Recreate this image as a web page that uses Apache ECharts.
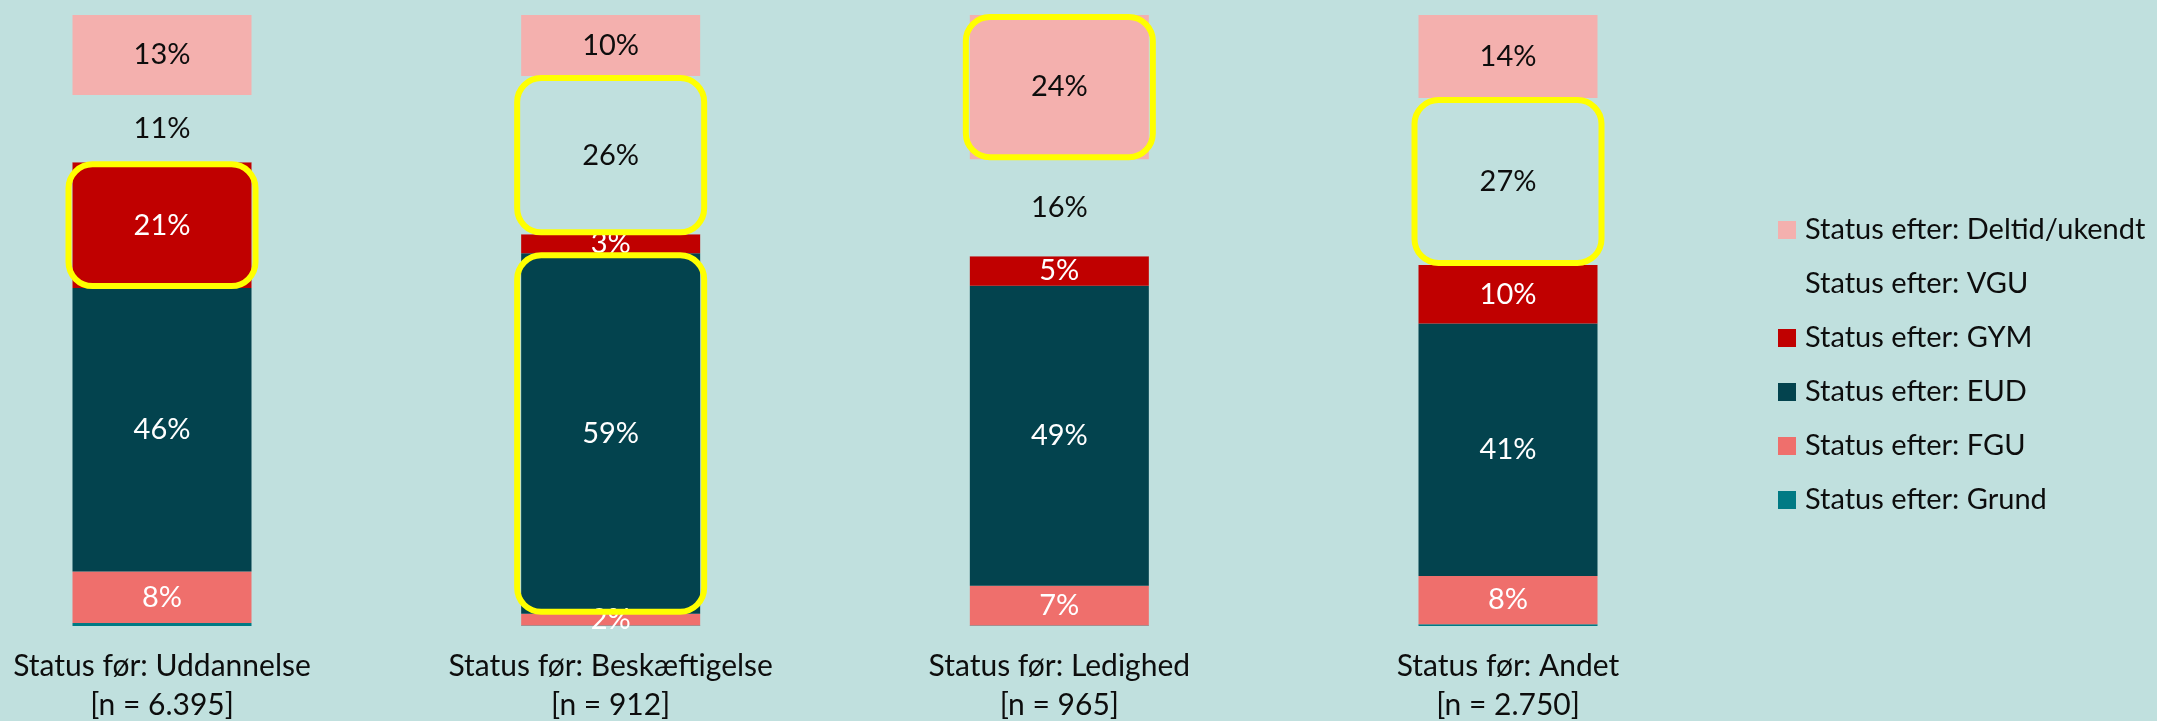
<!DOCTYPE html>
<html>
<head>
<meta charset="utf-8">
<script src="https://cdn.jsdelivr.net/npm/echarts@6/dist/echarts.min.js"></script>
<style>
  html, body { margin: 0; padding: 0; background: #c0e0de; }
  #chart { width: 2157px; height: 721px; }
</style>
</head>
<body>
<div id="chart"></div>
<script>
// categories (x axis)
const categories = [
  "Status før: Uddannelse\n[n = 6.395]",
  "Status før: Beskæftigelse\n[n = 912]",
  "Status før: Ledighed\n[n = 965]",
  "Status før: Andet\n[n = 2.750]"
];

// shares in percent, per category
const grund  = [0.5, 0.1, 0.1, 0.3];
const fgu    = [8.4, 1.9, 6.5, 7.9];
const eud    = [46.4, 59.0, 49.1, 41.3];
const gym    = [20.6, 3.1, 4.8, 9.6];
const vgu    = [11.0, 25.9, 15.9, 27.3];
const deltid = [13.1, 10.0, 23.6, 13.6];

// yellow highlight boxes: [category index, segment]
const highlights = [
  [0, "gym"],
  [1, "vgu"],
  [1, "eud"],
  [2, "deltid"],
  [3, "vgu"]
];

const BG = "#c0e0de";
const FONT = "Lato";
const BAR_W = 179;

// stack order bottom -> top
const stackOrder = [
  { key: "grund",  name: "Status efter: Grund",          data: grund,  color: "#007a84", label: false, txt: "#fff" },
  { key: "fgu",    name: "Status efter: FGU",            data: fgu,    color: "#ef6f6c", label: true,  txt: "#fff" },
  { key: "eud",    name: "Status efter: EUD",            data: eud,    color: "#03434e", label: true,  txt: "#fff" },
  { key: "gym",    name: "Status efter: GYM",            data: gym,    color: "#c00000", label: true,  txt: "#fff" },
  { key: "vgu",    name: "Status efter: VGU",            data: vgu,    color: BG,        label: true,  txt: "#0d0d0d" },
  { key: "deltid", name: "Status efter: Deltid/ukendt",  data: deltid, color: "#f4b0ae", label: true,  txt: "#0d0d0d" }
];

// segment bounds for highlight boxes, from the stacked data
const boxData = highlights.map(([ci, key]) => {
  let bottom = 0;
  for (const s of stackOrder) {
    if (s.key === key) return [ci, bottom, bottom + s.data[ci]];
    bottom += s.data[ci];
  }
});

const chart = echarts.init(document.getElementById("chart"));

const barSeries = stackOrder.map(s => ({
  name: s.name,
  type: "bar",
  stack: "total",
  barWidth: BAR_W,
  clip: false,
  data: s.data,
  itemStyle: { color: s.color },
  label: {
    show: s.label,
    position: "inside",
    color: s.txt,
    fontFamily: FONT,
    fontSize: 29,
    formatter: p => Math.round(p.value) + "%"
  },
  emphasis: { disabled: true }
}));

const option = {
  backgroundColor: BG,
  animation: false,
  textStyle: { fontFamily: FONT },
  grid: { left: 162, right: 649, top: 15, bottom: 95, outerBoundsMode: "none", containLabel: false },
  legend: {
    orient: "vertical",
    left: 1773,
    top: 210,
    itemWidth: 18,
    itemHeight: 18,
    itemGap: 24,
    icon: "rect",
    data: stackOrder.map(s => s.name).reverse(),
    textStyle: {
      fontFamily: FONT, fontSize: 29, color: "#0d0d0d",
      lineHeight: 30, padding: [0, 0, 0, 4]
    }
  },
  xAxis: {
    type: "category",
    data: categories,
    boundaryGap: false,
    axisLine: { show: false },
    axisTick: { show: false },
    axisLabel: {
      margin: 21,
      color: "#0d0d0d",
      fontFamily: FONT,
      fontSize: 30,
      lineHeight: 39,
      interval: 0
    }
  },
  yAxis: {
    type: "value",
    min: 0,
    max: 100,
    show: false
  },
  series: barSeries.concat([{
    type: "custom",
    name: "highlight",
    clip: false,
    z: 10,
    data: boxData,
    encode: { x: 0, y: [1, 2] },
    renderItem: (params, api) => {
      const top = api.coord([api.value(0), api.value(2)]);
      const bot = api.coord([api.value(0), api.value(1)]);
      return {
        type: "rect",
        shape: {
          x: top[0] - BAR_W / 2 - 4,
          y: top[1] + 2,
          width: BAR_W + 8,
          height: bot[1] - top[1] - 4,
          r: 24
        },
        style: { fill: "none", stroke: "#ffff00", lineWidth: 6 }
      };
    }
  }])
};

chart.setOption(option);
</script>
</body>
</html>
